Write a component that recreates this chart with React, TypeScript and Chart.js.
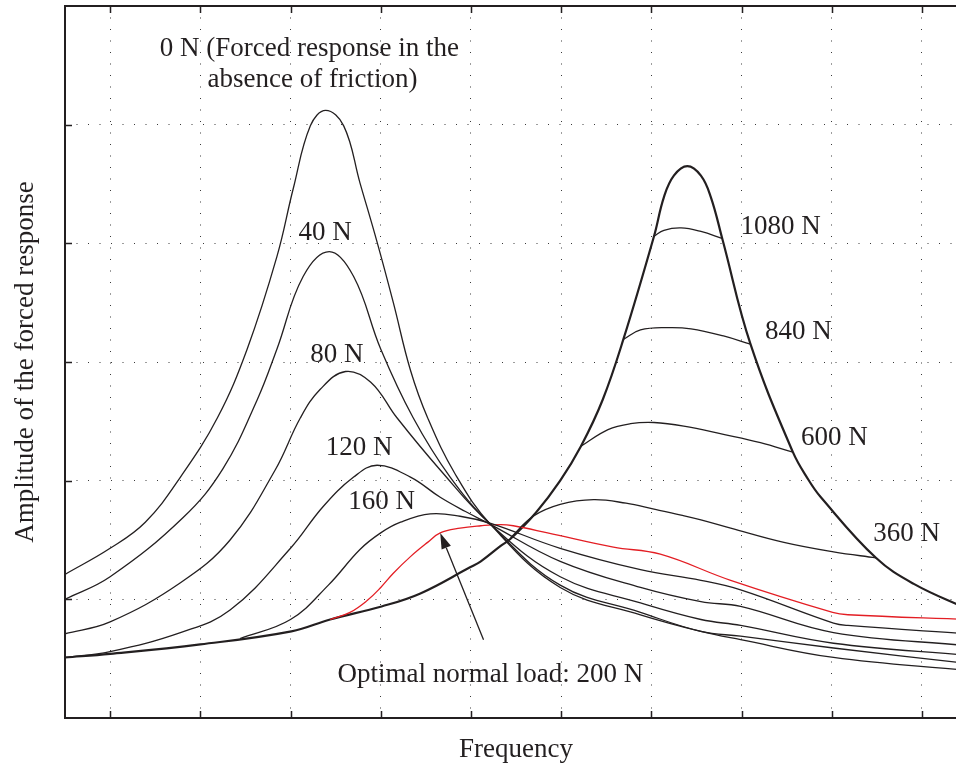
import React, { useEffect, useRef } from "react";
import { Chart, registerables } from "chart.js";

Chart.register(...registerables);

// ---- grid positions (arbitrary units, no tick labels shown) ----
const X_TICKS = [1, 2, 3, 4, 5, 6, 7, 8, 9, 10];
const Y_TICKS = [1, 2, 3, 4, 5];

// ---- stuck (fully locked) response ----
const STUCK_X = [0.5, 1.0, 2.0, 3.01, 3.44, 4.01, 4.44, 4.99, 5.11, 5.33, 5.44, 5.72, 5.99, 6.22, 6.46, 6.69, 7.03, 7.14, 7.25, 7.4, 7.55, 7.66, 7.79, 8.1, 8.57, 8.74, 8.88, 9.49, 9.91, 10.5];
const STUCK_Y = [0.51, 0.54, 0.62, 0.73, 0.83, 0.94, 1.05, 1.27, 1.32, 1.45, 1.51, 1.73, 2.0, 2.29, 2.68, 3.19, 4.06, 4.39, 4.57, 4.65, 4.57, 4.39, 4.03, 3.15, 2.24, 2.01, 1.86, 1.35, 1.13, 0.92];

// ---- friction responses ----
const N0_X = [0.5, 1.0, 1.39, 1.78, 2.19, 2.52, 2.85, 3.03, 3.22, 3.39, 3.59, 3.77, 3.96, 4.14, 4.33, 4.52, 4.83, 5.22, 5.99, 6.88, 7.55, 7.99, 9.02, 10.5];
const N0_Y = [1.21, 1.43, 1.65, 2.03, 2.53, 3.11, 3.89, 4.46, 4.99, 5.12, 4.99, 4.51, 4.01, 3.5, 2.93, 2.53, 2.05, 1.63, 1.1, 0.87, 0.73, 0.66, 0.51, 0.4];

const N40_X = [0.5, 1.0, 1.81, 2.25, 2.63, 2.85, 3.14, 3.43, 3.7, 4.0, 4.36, 4.77, 5.22, 5.99, 6.88, 7.55, 7.99, 9.02, 10.5];
const N40_Y = [1.0, 1.19, 1.69, 2.1, 2.68, 3.11, 3.72, 3.93, 3.72, 3.11, 2.53, 2.03, 1.63, 1.12, 0.89, 0.73, 0.69, 0.59, 0.46];

const N80_X = [0.5, 1.0, 1.78, 2.33, 2.83, 3.11, 3.33, 3.61, 3.89, 4.18, 4.66, 5.22, 5.99, 6.88, 7.55, 7.99, 9.02, 10.5];
const N80_Y = [0.71, 0.81, 1.14, 1.5, 2.09, 2.53, 2.77, 2.92, 2.83, 2.53, 2.09, 1.63, 1.19, 0.97, 0.83, 0.78, 0.63, 0.53];

const N120_X = [0.5, 1.0, 1.78, 2.33, 3.0, 3.36, 3.7, 3.96, 4.33, 4.66, 4.94, 5.22, 5.99, 6.88, 7.55, 7.99, 9.02, 10.5];
const N120_Y = [0.51, 0.56, 0.72, 0.91, 1.43, 1.78, 2.03, 2.13, 2.03, 1.86, 1.74, 1.63, 1.32, 1.1, 0.98, 0.94, 0.72, 0.61];

const N160_X = [2.44, 3.0, 3.42, 3.77, 4.0, 4.22, 4.55, 4.88, 5.22, 5.99, 6.88, 7.55, 7.99, 9.02, 9.18, 10.5];
const N160_Y = [0.67, 0.83, 1.12, 1.42, 1.56, 1.65, 1.72, 1.7, 1.64, 1.43, 1.25, 1.16, 1.08, 0.8, 0.78, 0.71];

const N200_X = [3.44, 3.66, 3.85, 4.0, 4.14, 4.33, 4.52, 4.66, 4.88, 5.11, 5.33, 5.47, 5.85, 6.58, 7.1, 7.88, 9.01, 9.18, 10.5];
const N200_Y = [0.83, 0.89, 0.99, 1.1, 1.22, 1.36, 1.48, 1.56, 1.6, 1.62, 1.63, 1.62, 1.56, 1.44, 1.38, 1.16, 0.89, 0.87, 0.83];

const N360_X = [5.44, 5.69, 5.99, 6.36, 6.72, 7.03, 7.33, 7.55, 7.88, 8.47, 9.02, 9.49];
const N360_Y = [1.52, 1.7, 1.8, 1.84, 1.81, 1.76, 1.71, 1.67, 1.6, 1.48, 1.4, 1.35];

const N600_X = [6.22, 6.52, 6.77, 7.03, 7.36, 7.8, 8.21, 8.57];
const N600_Y = [2.29, 2.43, 2.48, 2.49, 2.46, 2.39, 2.32, 2.24];

const N840_X = [6.69, 6.88, 7.18, 7.44, 7.8, 8.1];
const N840_Y = [3.19, 3.27, 3.29, 3.28, 3.22, 3.15];

const N1080_X = [7.03, 7.14, 7.33, 7.55, 7.79];
const N1080_Y = [4.06, 4.11, 4.13, 4.1, 4.04];

// ---- annotations (data coordinates, left/baseline anchored) ----
const LABEL_TEXTS = [
  "0 N (Forced response in the",
  "absence of friction)",
  "40 N",
  "80 N",
  "120 N",
  "160 N",
  "1080 N",
  "840 N",
  "600 N",
  "360 N",
  "Optimal normal load: 200 N",
];
const LABEL_X = [1.55, 2.08, 3.09, 3.22, 3.39, 3.64, 7.99, 8.26, 8.66, 9.46, 3.52];
const LABEL_Y = [5.58, 5.32, 4.03, 3.0, 2.22, 1.76, 4.08, 3.19, 2.3, 1.49, 0.3];
const ARROW_FROM = [5.14, 0.66];
const ARROW_TO = [4.66, 1.56];

const X_TITLE = "Frequency";
const Y_TITLE = "Amplitude of the forced response";

const INK = "#231f20";
const RED = "#e31e24";
const FONT = '27px "Liberation Serif", "Times New Roman", serif';

function pts(xs: number[], ys: number[]) {
  return xs.map((x, i) => ({ x, y: ys[i] }));
}

const framePlugin = {
  id: "framePlugin",
  afterDatasetsDraw(chart: any) {
    const { ctx, chartArea: a, scales } = chart;
    const sx = scales.x;
    const sy = scales.y;
    ctx.save();
    // inward tick marks
    ctx.strokeStyle = INK;
    ctx.lineWidth = 1.5;
    ctx.beginPath();
    for (const v of X_TICKS) {
      const p = Math.round(sx.getPixelForValue(v)) + 0.5;
      ctx.moveTo(p, a.bottom);
      ctx.lineTo(p, a.bottom - 7);
      ctx.moveTo(p, a.top);
      ctx.lineTo(p, a.top + 7);
    }
    for (const v of Y_TICKS) {
      const p = Math.round(sy.getPixelForValue(v)) + 0.5;
      ctx.moveTo(a.left, p);
      ctx.lineTo(a.left + 7, p);
      ctx.moveTo(a.right, p);
      ctx.lineTo(a.right - 7, p);
    }
    ctx.stroke();
    // frame
    ctx.lineWidth = 2;
    ctx.strokeRect(a.left, a.top, a.right - a.left, a.bottom - a.top);

    // labels
    ctx.fillStyle = INK;
    ctx.font = FONT;
    ctx.textAlign = "left";
    ctx.textBaseline = "alphabetic";
    LABEL_TEXTS.forEach((t, i) => {
      ctx.fillText(t, sx.getPixelForValue(LABEL_X[i]), sy.getPixelForValue(LABEL_Y[i]));
    });

    // arrow
    const x0 = sx.getPixelForValue(ARROW_FROM[0]);
    const y0 = sy.getPixelForValue(ARROW_FROM[1]);
    const x1 = sx.getPixelForValue(ARROW_TO[0]);
    const y1 = sy.getPixelForValue(ARROW_TO[1]);
    const ang = Math.atan2(y1 - y0, x1 - x0);
    const hl = 16;
    const hw = 5;
    const bx = x1 - hl * Math.cos(ang);
    const by = y1 - hl * Math.sin(ang);
    ctx.strokeStyle = INK;
    ctx.lineWidth = 1.3;
    ctx.beginPath();
    ctx.moveTo(x0, y0);
    ctx.lineTo(bx, by);
    ctx.stroke();
    ctx.beginPath();
    ctx.moveTo(x1, y1);
    ctx.lineTo(bx + hw * Math.sin(ang), by - hw * Math.cos(ang));
    ctx.lineTo(bx - hw * Math.sin(ang), by + hw * Math.cos(ang));
    ctx.closePath();
    ctx.fill();

    // axis titles
    ctx.textAlign = "center";
    ctx.fillText(X_TITLE, (a.left + a.right) / 2, 757);
    ctx.translate(33, (a.top + a.bottom) / 2);
    ctx.rotate(-Math.PI / 2);
    ctx.fillText(Y_TITLE, 0, 0);
    ctx.restore();
  },
};

function lineDs(label: string, xs: number[], ys: number[], color: string, width: number) {
  return {
    label,
    data: pts(xs, ys),
    borderColor: color,
    backgroundColor: color,
    borderWidth: width,
    pointRadius: 0,
    pointHoverRadius: 0,
    showLine: true,
    fill: false,
    tension: 0.4,
    cubicInterpolationMode: "default" as const,
  };
}

export default function App() {
  const ref = useRef<HTMLCanvasElement>(null);
  useEffect(() => {
    document.body.style.margin = "0";
    const canvas = ref.current!;
    const gridCommon = {
      color: "#3a3a3a",
      lineWidth: 1,
      drawTicks: false,
      drawOnChartArea: true,
    };
    const chart = new Chart(canvas, {
      type: "scatter",
      data: {
        datasets: [
          lineDs("0 N", N0_X, N0_Y, INK, 1.3),
          lineDs("40 N", N40_X, N40_Y, INK, 1.3),
          lineDs("80 N", N80_X, N80_Y, INK, 1.3),
          lineDs("120 N", N120_X, N120_Y, INK, 1.3),
          lineDs("160 N", N160_X, N160_Y, INK, 1.3),
          lineDs("360 N", N360_X, N360_Y, INK, 1.3),
          lineDs("600 N", N600_X, N600_Y, INK, 1.3),
          lineDs("840 N", N840_X, N840_Y, INK, 1.3),
          lineDs("1080 N", N1080_X, N1080_Y, INK, 1.3),
          lineDs("200 N", N200_X, N200_Y, RED, 1.3),
          lineDs("stuck", STUCK_X, STUCK_Y, INK, 2.2),
        ],
      },
      options: {
        responsive: false,
        maintainAspectRatio: false,
        animation: false,
        events: [],
        layout: { padding: { left: 65, right: 13, top: 6, bottom: 50 } },
        plugins: {
          legend: { display: false },
          tooltip: { enabled: false },
          title: { display: false },
        },
        scales: {
          x: {
            type: "linear",
            min: 0.5,
            max: 10.5,
            ticks: { display: false },
            afterBuildTicks: (s: any) => {
              s.ticks = X_TICKS.map((v) => ({ value: v }));
            },
            grid: gridCommon,
            border: { display: false, dash: [1, 10.5] },
          },
          y: {
            type: "linear",
            min: 0,
            max: 6,
            ticks: { display: false },
            afterBuildTicks: (s: any) => {
              s.ticks = Y_TICKS.map((v) => ({ value: v }));
            },
            grid: gridCommon,
            border: { display: false, dash: [1, 10.5] },
          },
        },
      },
      plugins: [framePlugin],
    });
    return () => chart.destroy();
  }, []);
  return (
    <div style={{ width: 956, height: 768, overflow: "hidden", position: "relative", background: "#fff" }}>
      <canvas ref={ref} width={980} height={768} style={{ display: "block", width: 980, height: 768 }} />
    </div>
  );
}
